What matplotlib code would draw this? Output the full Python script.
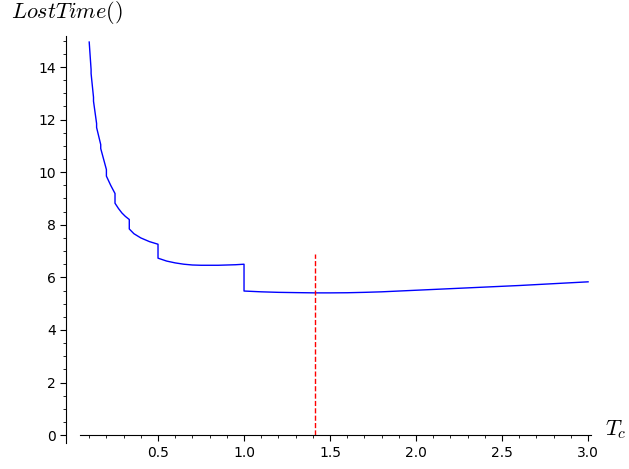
import numpy as np
import matplotlib
matplotlib.use('Agg')
import matplotlib.pyplot as plt
from matplotlib.ticker import MultipleLocator

plt.rcParams['mathtext.fontset'] = 'cm'

# LostTime(), jumps at Tc = 1/n show up as repeated x values
tc = [0.100, 0.111, 0.111, 0.125, 0.125, 0.143, 0.143, 0.167, 0.167,
      0.200, 0.200, 0.225, 0.250, 0.250, 0.270, 0.290, 0.310, 0.333, 0.333,
      0.360, 0.400, 0.450, 0.500, 0.500, 0.550, 0.600, 0.650, 0.700,
      0.750, 0.800, 0.850, 0.900, 0.950, 1.000, 1.000, 1.100, 1.200,
      1.300, 1.414, 1.500, 1.600, 1.700, 1.800, 1.900, 2.000, 2.200,
      2.400, 2.600, 2.800, 3.000]
lostTime = [14.95, 13.90, 13.75, 12.85, 12.70, 11.85, 11.70, 11.05, 10.90,
            10.10, 9.85, 9.50, 9.19, 8.82, 8.62, 8.45, 8.32, 8.20, 7.84,
            7.66, 7.50, 7.36, 7.26, 6.73, 6.62, 6.55, 6.50, 6.47,
            6.46, 6.46, 6.46, 6.47, 6.48, 6.50, 5.48, 5.45, 5.43,
            5.42, 5.41, 5.41, 5.415, 5.43, 5.45, 5.48, 5.51, 5.57,
            5.63, 5.69, 5.76, 5.83]

# optimum marker
tcOpt = 1.414
markerTop = 6.9

fig = plt.figure(figsize=(6.29, 4.69), dpi=100)
ax = fig.add_axes([80/629., 1 - 443/469., (591 - 80)/629., (443 - 36)/469.])

ax.plot(tc, lostTime, color='#0000ff', linewidth=1)
ax.plot([tcOpt, tcOpt], [0, markerTop], color='#ff0000', linestyle='--', linewidth=1)

ax.set_xlim(0.0465, 3.017)
ax.set_ylim(-0.30, 15.18)

# sage style axes
ax.spines['top'].set_visible(False)
ax.spines['right'].set_visible(False)
ax.spines['bottom'].set_position(('data', 0))
ax.spines['left'].set_position(('outward', 10))

ax.xaxis.set_major_locator(MultipleLocator(0.5))
ax.xaxis.set_minor_locator(MultipleLocator(0.1))
ax.yaxis.set_major_locator(MultipleLocator(2))
ax.yaxis.set_minor_locator(MultipleLocator(0.5))
ax.tick_params(which='major', length=4, labelsize=10)
ax.tick_params(which='minor', length=2)
ax.set_xticks([0.5, 1.0, 1.5, 2.0, 2.5, 3.0])
ax.set_xticklabels(['0.5', '1.0', '1.5', '2.0', '2.5', '3.0'])

fig.text(11/629., 1 - 12/469., r'$LostTime()$', fontsize=16, ha='left', va='center')
fig.text(627/629., 1 - 430/469., r'$T_c$', fontsize=16, ha='right', va='center')

plt.savefig('out.png', dpi=100)
